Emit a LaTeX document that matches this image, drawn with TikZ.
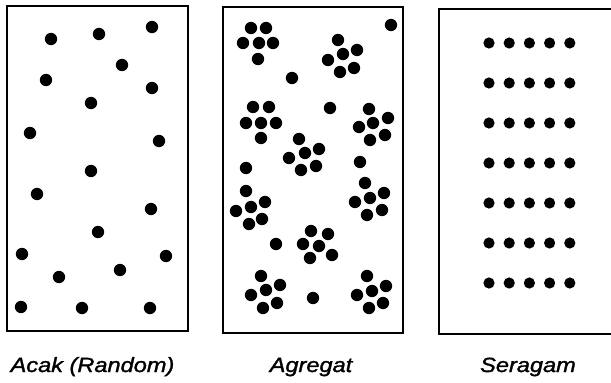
\documentclass[tikz,border=0pt]{standalone}
\usepackage{fontspec}
\newfontfamily\captionfont[FakeStretch=1.15, FakeBold=1.5]{Liberation Sans}
\usetikzlibrary{positioning}

\begin{document}
\begin{tikzpicture}[x=1pt, y=-1pt,
  panel/.style={draw, line width=2.6pt, inner sep=0pt},
  spot/.style={fill=black},
  caption/.style={font=\captionfont\itshape\fontsize{20.5}{24}\selectfont,
                  anchor=base, inner sep=0pt}
]
  \useasboundingbox (0,0) rectangle (611,383);

  % the three quadrats
  \node[panel, minimum width=181pt, minimum height=325pt] (random) at (97.5,168.5) {};
  \node[panel, minimum width=180pt, minimum height=326pt] (aggregate) at (313,170) {};
  \node[panel, minimum width=178pt, minimum height=325pt] (uniform) at (528,171.5) {};

  % random pattern
  \foreach \x/\y in {51/39, 99/34, 152/27, 122/65, 46/80, 152/88, 91/103,
                     30/133, 159/141, 91/171, 37/194, 151/209, 98/232,
                     22/254, 166/256, 59/277, 120/270, 21/307, 82/308, 150/308}
    \fill[spot] (\x,\y) circle (6.2pt);

  % aggregated pattern
  \foreach \x/\y in {251/28, 266/28, 243/43, 259/43, 273/43, 258/59,
                     338/40, 357/50, 328/60, 343/54, 354/68, 340/72,
                     253/107, 269/107, 246/123, 261/123, 276/123, 261/138,
                     369/109, 388/118, 359/127, 373/123, 385/135, 370/140,
                     299/139, 319/149, 289/158, 305/153, 316/166, 301/170,
                     246/191, 265/202, 236/211, 251/207, 262/219, 249/224,
                     365/183, 384/193, 355/202, 370/198, 382/210, 367/215,
                     311/231, 328/234, 303/244, 319/246, 332/255, 310/258,
                     261/276, 280/285, 251/295, 266/290, 277/303, 263/308,
                     367/276, 386/286, 357/295, 372/291, 383/303, 369/308,
                     391/25, 292/78, 330/108, 246/168, 360/162, 276/244, 313/298}
    \fill[spot] (\x,\y) circle (6.2pt);

  % uniform pattern
  \foreach \j in {0,...,6}
    \foreach \i in {0,...,4}
      \fill[spot] (489+20.2*\i, 43+40*\j) circle (5.6pt);

  % captions
  \node[caption] (randomlbl) at (92.5,372) {Acak (Random)};
  \node[caption] (aggregatelbl) at (311,372) {Agregat};
  \node[caption] (uniformlbl) at (528,372) {Seragam};
\end{tikzpicture}
\end{document}
